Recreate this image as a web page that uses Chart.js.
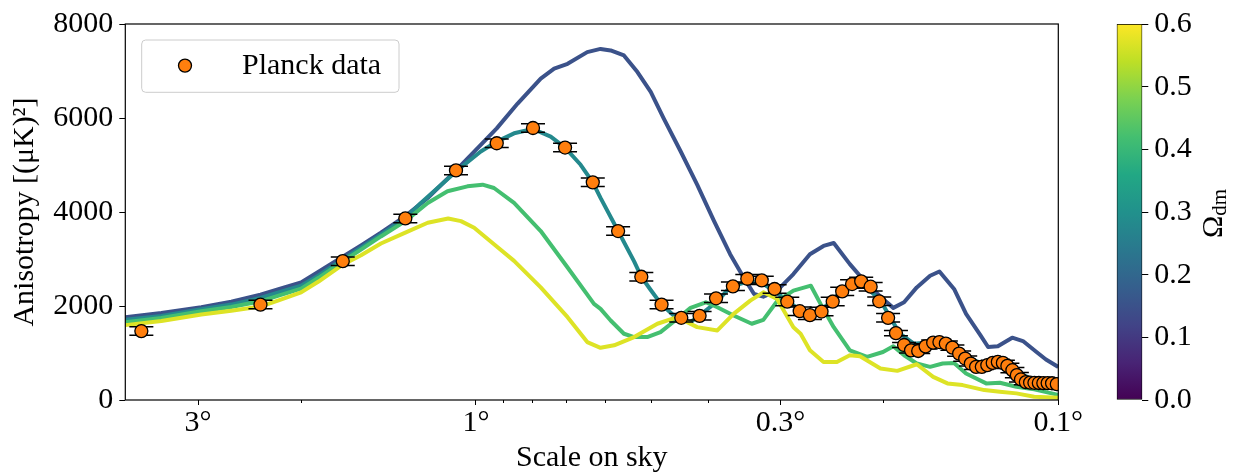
<!DOCTYPE html>
<html>
<head>
<meta charset="utf-8">
<title>CMB anisotropy and dark matter density</title>
<script src="https://cdn.jsdelivr.net/npm/chart.js@4.4.1/dist/chart.umd.min.js"></script>
<style>
  html, body { margin: 0; padding: 0; background: #fff; }
  #wrap { position: relative; width: 1239px; height: 475px; overflow: hidden; }
  #spectrum { position: absolute; left: 0; top: 0; }
  #colorbar { position: absolute; left: 1060px; top: 0; }
</style>
</head>
<body>
<div id="wrap">
  <canvas id="spectrum" width="1239" height="475"></canvas>
  <canvas id="colorbar" width="179" height="475"></canvas>
</div>
<script>
const SERIF = "'Liberation Serif', 'DejaVu Serif', serif";

// Planck binned spectrum, x = angular scale in degrees
const planckDeg = [3.754, 2.344, 1.693, 1.322, 1.082, 0.921, 0.798, 0.703, 0.630, 0.570,
    0.520, 0.480, 0.444, 0.413, 0.387, 0.362, 0.342, 0.323, 0.307, 0.292,
    0.278, 0.267, 0.255, 0.244, 0.235, 0.226, 0.218, 0.210, 0.203, 0.196,
    0.190, 0.184, 0.179, 0.174, 0.169, 0.164, 0.160, 0.156, 0.152, 0.148,
    0.1445, 0.1413, 0.1384, 0.1353, 0.1324, 0.1296, 0.1270, 0.1245, 0.1223, 0.1199,
    0.1178, 0.1159, 0.1137, 0.1118, 0.1099, 0.1080, 0.1061, 0.1043, 0.1025, 0.1006];
const planckVal = [1466, 2030, 2954, 3863, 4885, 5463, 5787, 5371, 4631, 3595,
    2622, 2030, 1749, 1791, 2164, 2418, 2580, 2545, 2362, 2094,
    1889, 1804, 1882, 2094, 2311, 2467, 2524, 2411, 2100, 1748,
    1424, 1170, 1057, 1043, 1142, 1220, 1233, 1199, 1114, 987,
    882, 776, 705, 705, 740, 789, 810, 789, 726, 634,
    529, 437, 381, 370, 366, 362, 360, 360, 356, 338];
const planckErr = [90, 90, 90, 90, 90, 90, 90, 90, 90, 90,
    90, 90, 90, 90, 90, 90, 90, 90, 90, 90,
    90, 90, 90, 90, 90, 90, 90, 90, 90, 90,
    55, 55, 55, 55, 55, 55, 55, 55, 55, 55,
    55, 55, 55, 55, 55, 55, 55, 55, 55, 55,
    55, 55, 55, 55, 55, 55, 55, 55, 55, 55];

// model spectra, one per dark matter density
const dm15Deg = [4.0, 3.468, 2.962, 2.631, 2.344, 2.182, 1.996, 1.863, 1.693, 1.575,
    1.456, 1.322, 1.210, 1.082, 0.981, 0.921, 0.848, 0.774, 0.734, 0.696,
    0.644, 0.611, 0.587, 0.557, 0.528, 0.501, 0.476, 0.445, 0.417, 0.390,
    0.366, 0.347, 0.333, 0.321, 0.304, 0.285, 0.267, 0.253, 0.243, 0.228,
    0.213, 0.200, 0.192, 0.184, 0.175, 0.166, 0.160, 0.151, 0.144, 0.136,
    0.132, 0.127, 0.120, 0.115, 0.109, 0.105, 0.100];
const dm15Val = [1762, 1850, 1973, 2090, 2240, 2360, 2500, 2730, 3050, 3290,
    3560, 3912, 4299, 4885, 5428, 5780, 6308, 6837, 7049, 7154,
    7401, 7470, 7437, 7331, 6978, 6556, 5991, 5287, 4583, 3806,
    3102, 2608, 2256, 2199, 2326, 2679, 3102, 3278, 3340, 2891,
    2468, 2151, 1960, 2079, 2396, 2643, 2734, 2362, 1833, 1375,
    1127, 1142, 1326, 1254, 1021, 861, 704];

const dm28Deg = [4.0, 3.468, 2.962, 2.631, 2.344, 2.182, 1.996, 1.863, 1.693, 1.575,
    1.456, 1.322, 1.243, 1.082, 0.981, 0.921, 0.860, 0.798, 0.744, 0.703,
    0.661, 0.630, 0.611, 0.570, 0.535, 0.520, 0.501, 0.480, 0.451, 0.428,
    0.413, 0.396, 0.380, 0.366, 0.342, 0.323, 0.308, 0.292, 0.277, 0.267,
    0.255, 0.243, 0.237, 0.218, 0.202, 0.193, 0.187, 0.177, 0.164, 0.153,
    0.144, 0.135, 0.126, 0.118, 0.110, 0.100];
const dm28Val = [1707, 1790, 1931, 2030, 2172, 2290, 2430, 2650, 2990, 3240,
    3520, 3870, 4193, 4864, 5287, 5498, 5674, 5766, 5604, 5371,
    5005, 4631, 4300, 3595, 2950, 2622, 2340, 2030, 1728, 1656,
    1800, 1980, 2180, 2400, 2520, 2490, 2326, 2115, 1903, 1833,
    1918, 2151, 2291, 2502, 2115, 1692, 1410, 1199, 1233, 1163,
    916, 776, 810, 598, 423, 387];

const dm42Deg = [4.0, 3.468, 2.962, 2.631, 2.344, 2.182, 1.996, 1.863, 1.693, 1.575,
    1.456, 1.322, 1.210, 1.119, 1.034, 0.974, 0.931, 0.860, 0.774, 0.696,
    0.627, 0.611, 0.587, 0.557, 0.535, 0.508, 0.482, 0.451, 0.428, 0.403,
    0.385, 0.361, 0.336, 0.321, 0.304, 0.285, 0.266, 0.256, 0.243, 0.228,
    0.213, 0.200, 0.192, 0.184, 0.175, 0.166, 0.158, 0.151, 0.144, 0.133,
    0.126, 0.118, 0.110, 0.100];
const dm42Val = [1656, 1745, 1889, 1980, 2100, 2220, 2370, 2600, 2950, 3200,
    3480, 3806, 4193, 4441, 4546, 4582, 4511, 4193, 3595, 2819,
    2045, 1940, 1692, 1410, 1339, 1339, 1445, 1728, 1960, 2079,
    1973, 1797, 1622, 1706, 2100, 2326, 2432, 2045, 1550, 1057,
    916, 1021, 1142, 952, 776, 705, 776, 789, 564, 353,
    366, 282, 226, 110];

const dm57Deg = [4.0, 3.468, 2.962, 2.631, 2.344, 2.182, 1.996, 1.863, 1.693, 1.575,
    1.456, 1.322, 1.210, 1.116, 1.061, 1.007, 0.931, 0.860, 0.774, 0.696,
    0.644, 0.611, 0.579, 0.535, 0.488, 0.451, 0.417, 0.385, 0.361, 0.338,
    0.321, 0.304, 0.285, 0.277, 0.267, 0.253, 0.240, 0.228, 0.219, 0.202,
    0.189, 0.175, 0.164, 0.155, 0.146, 0.134, 0.126, 0.118, 0.110, 0.100];
const dm57Val = [1593, 1680, 1819, 1900, 1988, 2120, 2290, 2520, 2880, 3080,
    3330, 3560, 3771, 3863, 3806, 3665, 3313, 2961, 2396, 1762,
    1233, 1110, 1163, 1339, 1622, 1762, 1550, 1480, 1833, 2115,
    2291, 2150, 1550, 1410, 1057, 810, 810, 952, 930, 670,
    620, 761, 493, 353, 317, 211, 176, 141, 70, 50];

const modelOmega = [0.15, 0.28, 0.42, 0.57];

const xMajorTicks = [3, 1, 0.3, 0.1];
const xMinorTicks = [2, 0.9, 0.8, 0.7, 0.6, 0.5, 0.4, 0.2];
const yTicks = [0, 2000, 4000, 6000, 8000];
const cbTicks = [0, 0.1, 0.2, 0.3, 0.4, 0.5, 0.6];

const viridisStops = ['#440154', '#482475', '#414487', '#355f8d', '#2a788e', '#21918c',
    '#22a884', '#44bf70', '#7ad151', '#bddf26', '#fde725'];

function viridis(t) {
    const n = viridisStops.length - 1;
    const pos = Math.min(Math.max(t, 0), 1) * n;
    const i = Math.min(Math.floor(pos), n - 1);
    const f = pos - i;
    const a = viridisStops[i], b = viridisStops[i + 1];
    const ch = k => {
        const va = parseInt(a.substr(1 + 2 * k, 2), 16);
        const vb = parseInt(b.substr(1 + 2 * k, 2), 16);
        return Math.round(va + (vb - va) * f);
    };
    return `rgb(${ch(0)}, ${ch(1)}, ${ch(2)})`;
}

const toPoints = (xs, ys) => xs.map((x, i) => ({ x: x, y: ys[i] }));

Chart.defaults.font.family = SERIF;
Chart.defaults.color = '#000';

const cbMax = cbTicks[cbTicks.length - 1];
const modelSeries = [[dm57Deg, dm57Val, modelOmega[3]], [dm42Deg, dm42Val, modelOmega[2]],
    [dm28Deg, dm28Val, modelOmega[1]], [dm15Deg, dm15Val, modelOmega[0]]];

const datasets = [{
    label: 'Planck data',
    data: toPoints(planckDeg, planckVal),
    showLine: false,
    pointRadius: 6.5,
    pointBackgroundColor: '#ff7f0e',
    pointBorderColor: '#000',
    pointBorderWidth: 1.3,
    clip: 0
}];
modelSeries.forEach(([xs, ys, om]) => {
    datasets.push({
        label: 'Omega ' + om,
        data: toPoints(xs, ys),
        borderColor: viridis(om / cbMax),
        borderWidth: 4,
        borderJoinStyle: 'round',
        pointRadius: 0,
        tension: 0,
        fill: false,
        clip: 0
    });
});

// vertical error bars with caps, under the markers
const errorBars = {
    id: 'errorBars',
    beforeDatasetDraw(chart, args) {
        if (args.index !== 0) return;
        const { ctx, chartArea: a, scales: { x, y } } = chart;
        ctx.save();
        ctx.beginPath();
        ctx.rect(a.left, a.top, a.right - a.left, a.bottom - a.top);
        ctx.clip();
        ctx.strokeStyle = '#000';
        ctx.lineWidth = 1.5;
        planckDeg.forEach((d, i) => {
            const px = x.getPixelForValue(d);
            const hi = y.getPixelForValue(planckVal[i] + planckErr[i]);
            const lo = y.getPixelForValue(planckVal[i] - planckErr[i]);
            ctx.beginPath();
            ctx.moveTo(px, hi); ctx.lineTo(px, lo);
            ctx.moveTo(px - 12, hi); ctx.lineTo(px + 12, hi);
            ctx.moveTo(px - 12, lo); ctx.lineTo(px + 12, lo);
            ctx.stroke();
        });
        ctx.restore();
    }
};

// axes box, minor log ticks and the legend box
const frameAndLegend = {
    id: 'frameAndLegend',
    afterDraw(chart) {
        const { ctx, chartArea: a, scales: { x } } = chart;
        ctx.save();
        ctx.strokeStyle = '#000';
        ctx.lineWidth = 1.2;
        ctx.strokeRect(a.left, a.top, a.right - a.left, a.bottom - a.top);

        ctx.lineWidth = 1;
        xMinorTicks.forEach(v => {
            const px = Math.round(x.getPixelForValue(v)) + 0.5;
            ctx.beginPath();
            ctx.moveTo(px, a.bottom);
            ctx.lineTo(px, a.bottom + 3);
            ctx.stroke();
        });

        const bx = a.left + 16.4, by = a.top + 16;
        ctx.beginPath();
        ctx.roundRect(bx, by, 257.3, 52.3, 4);
        ctx.fillStyle = 'rgba(255, 255, 255, 0.8)';
        ctx.fill();
        ctx.strokeStyle = '#cccccc';
        ctx.lineWidth = 1;
        ctx.stroke();

        ctx.beginPath();
        ctx.arc(bx + 43.3, by + 25.6, 6.5, 0, Math.PI * 2);
        ctx.fillStyle = '#ff7f0e';
        ctx.fill();
        ctx.strokeStyle = '#000';
        ctx.lineWidth = 1.3;
        ctx.stroke();

        ctx.fillStyle = '#000';
        ctx.font = `30px ${SERIF}`;
        ctx.textBaseline = 'alphabetic';
        ctx.textAlign = 'left';
        ctx.fillText('Planck data', bx + 100.3, by + 34);
        ctx.restore();
    }
};

new Chart(document.getElementById('spectrum'), {
    type: 'line',
    data: { datasets: datasets },
    options: {
        responsive: false,
        animation: false,
        events: [],
        layout: { padding: { left: 0, right: 180.7, top: 21.7, bottom: 0 } },
        plugins: {
            legend: { display: false },
            tooltip: { enabled: false }
        },
        scales: {
            x: {
                type: 'logarithmic',
                reverse: true,
                min: 0.1,
                max: 4,
                afterBuildTicks: s => { s.ticks = xMajorTicks.map(v => ({ value: v })); },
                afterFit: s => { s.height = 75; },
                ticks: {
                    autoSkip: false,
                    maxRotation: 0,
                    padding: 0,
                    color: '#000',
                    font: { size: 30 },
                    callback: v => v + '°'
                },
                grid: { drawOnChartArea: false, tickLength: 5, color: '#000', tickWidth: 1 },
                border: { display: false },
                title: {
                    display: true,
                    text: 'Scale on sky',
                    color: '#000',
                    font: { size: 30, lineHeight: 1 },
                    padding: { top: 0, bottom: 2 }
                }
            },
            y: {
                min: 0,
                max: 8000,
                afterBuildTicks: s => { s.ticks = yTicks.map(v => ({ value: v })); },
                afterFit: s => { s.width = 125.3; },
                ticks: { padding: 6, color: '#000', font: { size: 30 }, callback: v => String(v) },
                grid: { drawOnChartArea: false, tickLength: 6, color: '#000', tickWidth: 1 },
                border: { display: false },
                title: {
                    display: true,
                    text: 'Anisotropy [(μK)²]',
                    color: '#000',
                    font: { size: 30, lineHeight: 1 },
                    padding: { top: 10, bottom: 0 }
                }
            }
        }
    },
    plugins: [errorBars, frameAndLegend]
});

// rotated colorbar label with subscript
const omegaTitle = {
    id: 'omegaTitle',
    afterDraw(chart) {
        const { ctx, chartArea: a } = chart;
        ctx.save();
        ctx.translate(a.right + 79.4, (a.top + a.bottom) / 2 + 26);
        ctx.rotate(-Math.PI / 2);
        ctx.fillStyle = '#000';
        ctx.textBaseline = 'alphabetic';
        ctx.textAlign = 'left';
        ctx.font = `30px ${SERIF}`;
        ctx.fillText('Ω', 0, 0);
        const w = ctx.measureText('Ω').width;
        ctx.font = `21px ${SERIF}`;
        ctx.fillText('dm', w, 4.5);
        ctx.restore();
    }
};

new Chart(document.getElementById('colorbar'), {
    type: 'bar',
    data: {
        labels: ['dm'],
        datasets: [{
            data: [[cbTicks[0], cbMax]],
            backgroundColor: c => {
                const area = c.chart.chartArea;
                if (!area) return viridisStops[5];
                const g = c.chart.ctx.createLinearGradient(0, area.bottom, 0, area.top);
                viridisStops.forEach((col, i) => g.addColorStop(i / (viridisStops.length - 1), col));
                return g;
            },
            borderColor: '#000',
            borderWidth: 1,
            borderSkipped: false,
            barPercentage: 1,
            categoryPercentage: 1
        }]
    },
    options: {
        responsive: false,
        animation: false,
        events: [],
        layout: { padding: { left: 56.7, right: 0, top: 21.7, bottom: 75 } },
        plugins: {
            legend: { display: false },
            tooltip: { enabled: false }
        },
        scales: {
            x: { display: false },
            y: {
                position: 'right',
                min: 0,
                max: cbMax,
                afterBuildTicks: s => { s.ticks = cbTicks.map(v => ({ value: v })); },
                afterFit: s => { s.width = 96.7; },
                ticks: { padding: 6, color: '#000', font: { size: 30 }, callback: v => v.toFixed(1) },
                grid: { drawOnChartArea: false, tickLength: 6, color: '#000', tickWidth: 1 },
                border: { display: false }
            }
        }
    },
    plugins: [omegaTitle]
});
</script>
</body>
</html>
